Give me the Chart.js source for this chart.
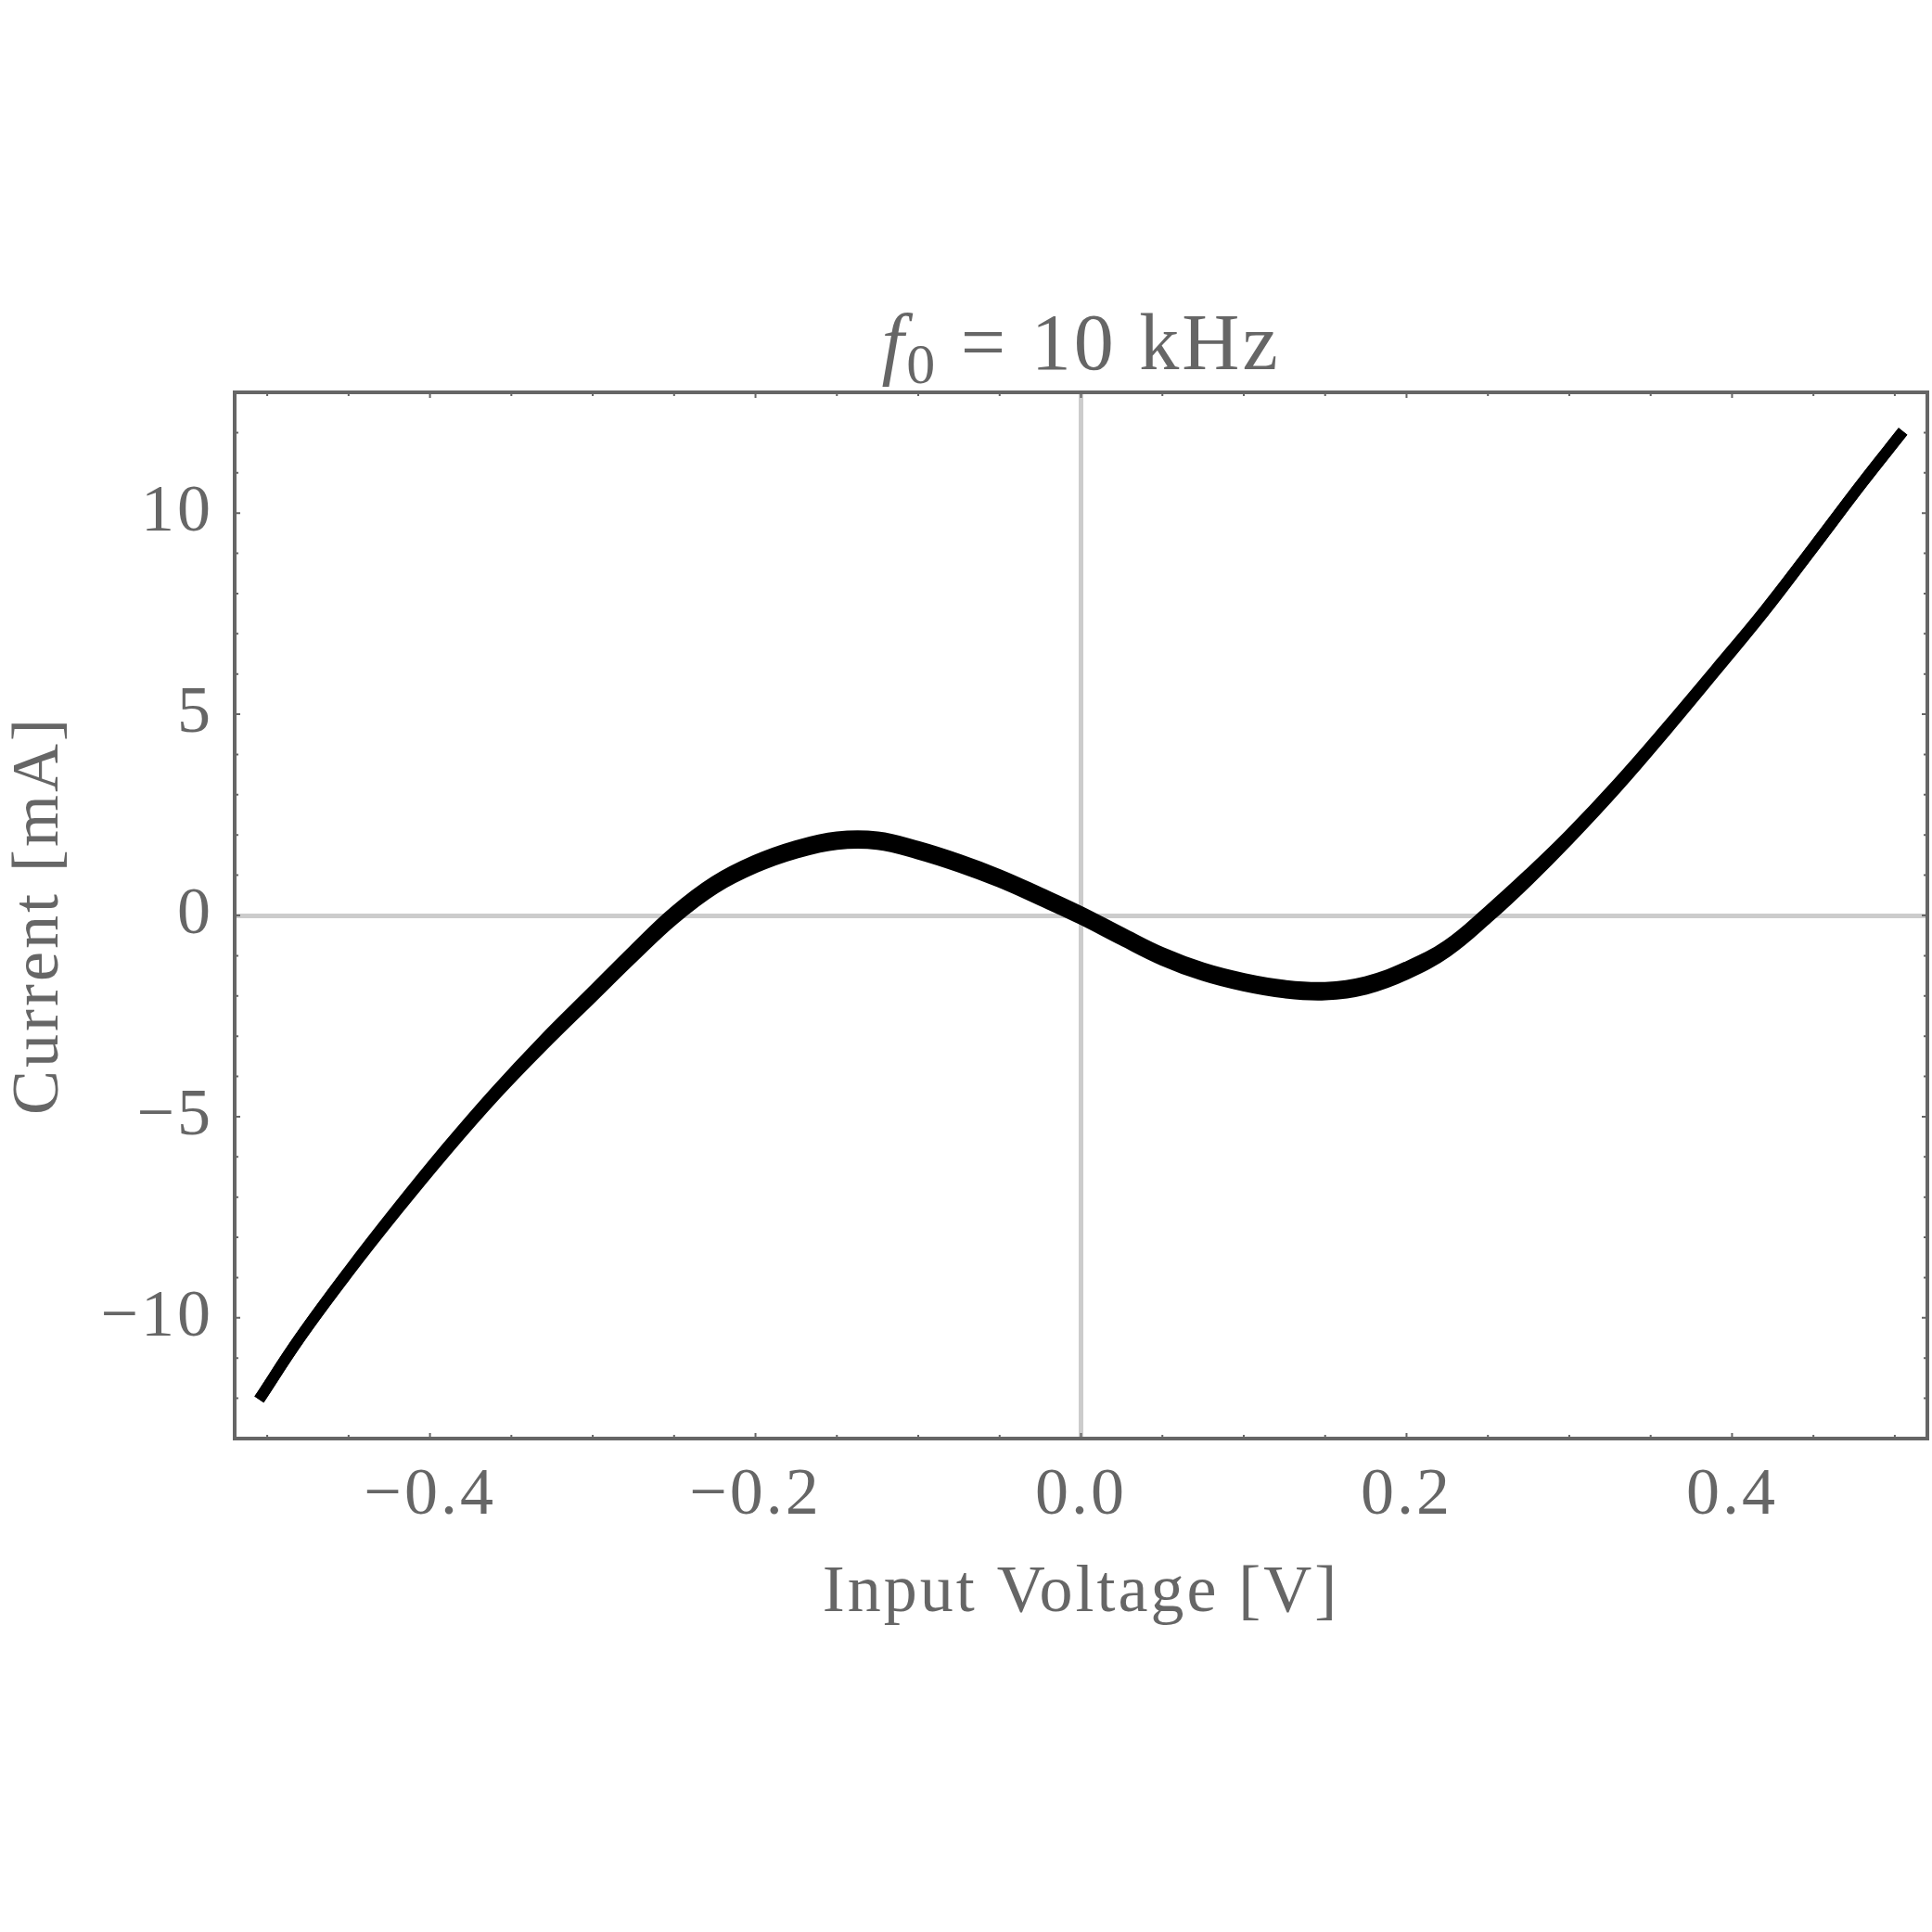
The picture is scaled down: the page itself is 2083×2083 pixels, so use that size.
<!DOCTYPE html>
<html>
<head>
<meta charset="utf-8">
<script src="https://cdn.jsdelivr.net/npm/chart.js@4.4.1/dist/chart.umd.min.js"></script>
<style>
  html, body { margin: 0; padding: 0; background: #fff; }
  #wrap { width: 2083px; height: 2083px; }
</style>
</head>
<body>
<div id="wrap"><canvas id="ivChart" width="2083" height="2083"></canvas></div>
<script>
// I-V sweep, f0 = 10 kHz
const voltage = [-0.505, -0.48, -0.45, -0.42, -0.39, -0.36, -0.33, -0.30, -0.275, -0.25,
    -0.225, -0.20, -0.175, -0.15, -0.125, -0.10, -0.075, -0.05, -0.025, 0,
    0.025, 0.05, 0.075, 0.10, 0.125, 0.15, 0.175, 0.20, 0.225, 0.25,
    0.275, 0.30, 0.33, 0.36, 0.39, 0.42, 0.45, 0.48, 0.505];

// upper and lower branch of the (slightly open) loop, in mA
const currentUp = [-12.03, -10.5, -8.84, -7.28, -5.79, -4.39, -3.09, -1.88, -0.87, 0.09,
    0.85, 1.37, 1.73, 1.95, 1.95, 1.71, 1.39, 1.01, 0.56, 0.09,
    -0.43, -0.93, -1.31, -1.57, -1.74, -1.79, -1.65, -1.28, -0.74, 0.10,
    1.02, 2.00, 3.29, 4.68, 6.12, 7.58, 9.15, 10.75, 12.03];
const currentDown = [-12.03, -10.5, -8.86, -7.32, -5.85, -4.47, -3.21, -2.02, -1.03, -0.09,
    0.67, 1.19, 1.55, 1.77, 1.77, 1.53, 1.21, 0.83, 0.38, -0.09,
    -0.61, -1.11, -1.49, -1.75, -1.92, -1.97, -1.83, -1.46, -0.90, -0.06,
    0.88, 1.90, 3.21, 4.62, 6.08, 7.56, 9.15, 10.75, 12.03];

const xTicks = [-0.4, -0.2, 0, 0.2, 0.4];
const xTickLabels = ['\u22120.4', '\u22120.2', '0.0', '0.2', '0.4'];
const yTicks = [-10, -5, 0, 5, 10];
const yTickLabels = ['\u221210', '\u22125', '0', '5', '10'];

const FONT = "'Liberation Serif', 'Times New Roman', serif";
const GREY = '#666666';

// the reference serif runs a little wider than Liberation Serif
const spacing = {
    id: 'spacing',
    beforeDraw(chart) { chart.ctx.letterSpacing = '3px'; }
};

// frame plus small inward ticks on all four sides
const framePlugin = {
    id: 'frame',
    afterDatasetsDraw(chart) {
        const { ctx, chartArea: a, scales: { x, y } } = chart;
        ctx.save();
        ctx.strokeStyle = GREY;
        ctx.lineWidth = 2;
        ctx.beginPath();
        for (let i = -10; i <= 10; i++) {
            const px = x.getPixelForValue(i * 0.05);
            const len = (i % 4 === 0) ? 6 : 4;
            ctx.moveTo(px, a.bottom); ctx.lineTo(px, a.bottom - len);
            ctx.moveTo(px, a.top); ctx.lineTo(px, a.top + len);
        }
        for (let v = -12; v <= 12; v++) {
            const py = y.getPixelForValue(v);
            const len = (v % 5 === 0) ? 6 : 4;
            ctx.moveTo(a.left, py); ctx.lineTo(a.left + len, py);
            ctx.moveTo(a.right, py); ctx.lineTo(a.right - len, py);
        }
        ctx.stroke();
        ctx.lineWidth = 4;
        ctx.strokeRect(a.left, a.top, a.right - a.left, a.bottom - a.top);
        ctx.restore();
    }
};

// title with italic f and subscript 0
const mathTitle = {
    id: 'mathTitle',
    afterDraw(chart) {
        const { ctx, chartArea: a } = chart;
        const base = 398;
        const parts = [
            { t: 'f', font: 'italic 86px ' + FONT, dy: 0 },
            { t: '0', font: '62px ' + FONT, dy: 15 },
            { t: ' = 10 kHz', font: '86px ' + FONT, dy: 0 }
        ];
        ctx.save();
        ctx.fillStyle = GREY;
        ctx.textBaseline = 'alphabetic';
        ctx.textAlign = 'left';
        let total = 0;
        parts.forEach(p => { ctx.font = p.font; p.w = ctx.measureText(p.t).width; total += p.w; });
        let cx = (a.left + a.right) / 2 - total / 2;
        parts.forEach(p => {
            ctx.font = p.font;
            ctx.fillText(p.t, cx, base + p.dy);
            cx += p.w;
        });
        ctx.restore();
    }
};

const zeroGrid = (ctx) => (ctx.tick && ctx.tick.value === 0) ? '#cccccc' : 'rgba(0,0,0,0)';

const lineStyle = {
    borderColor: '#000000',
    borderWidth: 12,
    pointRadius: 0,
    fill: false,
    tension: 0.4
};

new Chart(document.getElementById('ivChart'), {
    type: 'line',
    data: {
        datasets: [
            Object.assign({ label: 'sweep up', data: voltage.map((v, i) => ({ x: v, y: currentUp[i] })) }, lineStyle),
            Object.assign({ label: 'sweep down', data: voltage.map((v, i) => ({ x: v, y: currentDown[i] })) }, lineStyle)
        ]
    },
    options: {
        responsive: false,
        animation: false,
        devicePixelRatio: 1,
        layout: { padding: { top: 423, right: 5, bottom: 0, left: 0 } },
        plugins: {
            legend: { display: false },
            title: { display: false },
            tooltip: { enabled: false }
        },
        scales: {
            x: {
                type: 'linear',
                min: -0.52,
                max: 0.52,
                afterBuildTicks: s => { s.ticks = xTicks.map(v => ({ value: v })); },
                afterFit: s => { s.height = 532; },
                border: { display: false },
                grid: { color: zeroGrid, lineWidth: 5, drawTicks: false },
                ticks: {
                    padding: 19,
                    color: GREY,
                    font: { family: FONT, size: 72 },
                    maxRotation: 0,
                    callback: v => xTickLabels[xTicks.indexOf(v)]
                },
                title: {
                    display: true,
                    text: 'Input Voltage [V]',
                    color: GREY,
                    font: { family: FONT, size: 72 },
                    padding: { top: 0, bottom: 322 }
                }
            },
            y: {
                type: 'linear',
                min: -13,
                max: 13,
                afterBuildTicks: s => { s.ticks = yTicks.map(v => ({ value: v })); },
                afterFit: s => { s.width = 253; },
                border: { display: false },
                grid: { color: zeroGrid, lineWidth: 5, drawTicks: false },
                ticks: {
                    padding: 23,
                    color: GREY,
                    font: { family: FONT, size: 72 },
                    callback: v => yTickLabels[yTicks.indexOf(v)]
                },
                title: {
                    display: true,
                    text: 'Current [mA]',
                    color: GREY,
                    font: { family: FONT, size: 72 },
                    padding: { top: 0, bottom: 0 }
                }
            }
        }
    },
    plugins: [spacing, framePlugin, mathTitle]
});
</script>
</body>
</html>
